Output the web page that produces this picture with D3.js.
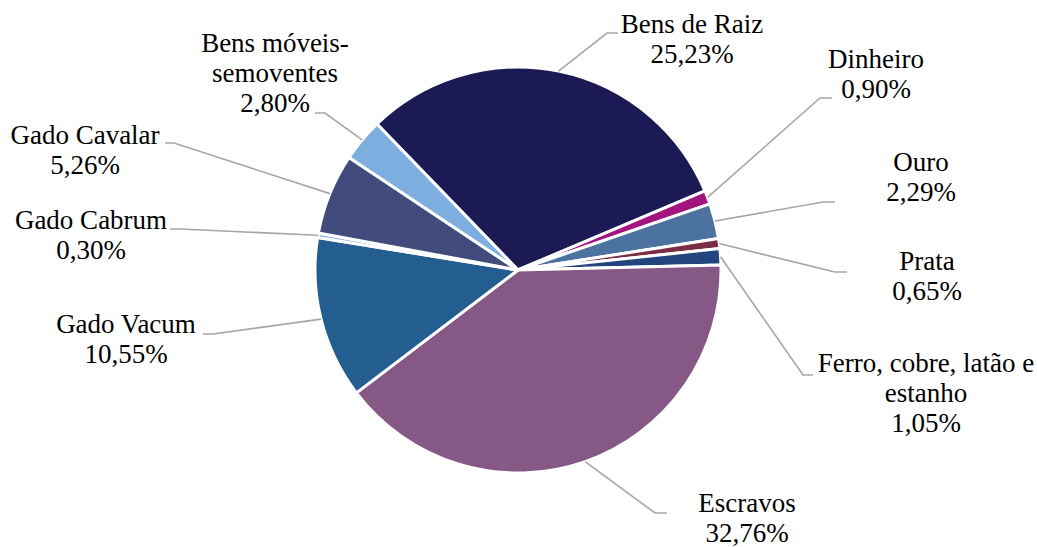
<!DOCTYPE html>
<html>
<head>
<meta charset="utf-8">
<script src="https://cdn.jsdelivr.net/npm/d3@7"></script>
<style>
  body { margin: 0; background: #fff; }
  text { font-family: "Liberation Serif", "Times New Roman", Tinos, "DejaVu Serif", serif; }
</style>
</head>
<body>
<div id="chart"></div>
<script>
// Categories and shares (%), clockwise from the upper-left
const categories = ["Bens de Raiz", "Dinheiro", "Ouro", "Prata", "Ferro, cobre, latão e estanho",
  "Escravos", "Gado Vacum", "Gado Cabrum", "Gado Cavalar", "Bens móveis-semoventes"];
const shares = [25.23, 0.90, 2.29, 0.65, 1.05, 32.76, 10.55, 0.30, 5.26, 2.80];
// Label text lines as printed
const labelLines = [
  ["Bens de Raiz"], ["Dinheiro"], ["Ouro"], ["Prata"], ["Ferro, cobre, latão e", "estanho"],
  ["Escravos"], ["Gado Vacum"], ["Gado Cabrum"], ["Gado Cavalar"], ["Bens móveis-", "semoventes"]
];
const colors = ["#1c1a55", "#a3147f", "#4c73a0", "#7a2e45", "#23457e",
  "#855886", "#245e91", "#8db3e2", "#414b7c", "#7daedf"];

// Layout: label centre x, first baseline y, leader elbow and end points
const labelPos = [
  { x: 692, y: 33, elbow: [607, 33], end: [618, 33] },
  { x: 876, y: 68, elbow: [820, 98], end: [832, 98] },
  { x: 921, y: 171, elbow: [823, 202], end: [835, 202] },
  { x: 927, y: 270, elbow: [835, 272], end: [847, 272] },
  { x: 926, y: 372, elbow: [803, 375], end: [813, 375] },
  { x: 747, y: 512, elbow: [655, 513], end: [667, 513] },
  { x: 126, y: 333, elbow: [213, 334], end: [203, 334] },
  { x: 91, y: 229, elbow: [180, 229], end: [170, 229] },
  { x: 85, y: 144, elbow: [174, 143], end: [165, 143] },
  { x: 275, y: 52, elbow: [325, 113], end: [315, 113] }
];

const width = 1037, height = 547;
const cx = 518, cy = 270, radius = 203;
const lineH = 30;

const svg = d3.select("#chart").append("svg")
  .attr("width", width)
  .attr("height", height);

const startDeg = -44;
const pie = d3.pie()
  .sort(null)
  .value(d => d)
  .startAngle(startDeg * Math.PI / 180)
  .endAngle((startDeg + 360) * Math.PI / 180);

const arcs = pie(shares);
const arc = d3.arc().innerRadius(0).outerRadius(radius);

const g = svg.append("g").attr("transform", `translate(${cx},${cy})`);

g.selectAll("path.slice")
  .data(arcs)
  .enter().append("path")
  .attr("class", "slice")
  .attr("d", arc)
  .attr("fill", (d, i) => colors[i])
  .attr("stroke", "#fff")
  .attr("stroke-width", 3)
  .attr("stroke-linejoin", "round");

// Leader lines from the slice edge at mid-angle
arcs.forEach((d, i) => {
  const mid = (d.startAngle + d.endAngle) / 2;
  const sx = cx + radius * Math.sin(mid);
  const sy = cy - radius * Math.cos(mid);
  const p = labelPos[i];
  svg.append("polyline")
    .attr("points", [[sx, sy], p.elbow, p.end].map(q => q.join(",")).join(" "))
    .attr("fill", "none")
    .attr("stroke", "#a6a6a6")
    .attr("stroke-width", 1.6);
});

// Labels: name lines then percentage
categories.forEach((c, i) => {
  const p = labelPos[i];
  const lines = labelLines[i].concat([shares[i].toFixed(2).replace(".", ",") + "%"]);
  const t = svg.append("text")
    .attr("text-anchor", "middle")
    .attr("font-size", 27)
    .attr("fill", "#000");
  lines.forEach((ln, j) => {
    t.append("tspan")
      .attr("x", p.x)
      .attr("y", p.y + j * lineH)
      .text(ln);
  });
});
</script>
</body>
</html>
